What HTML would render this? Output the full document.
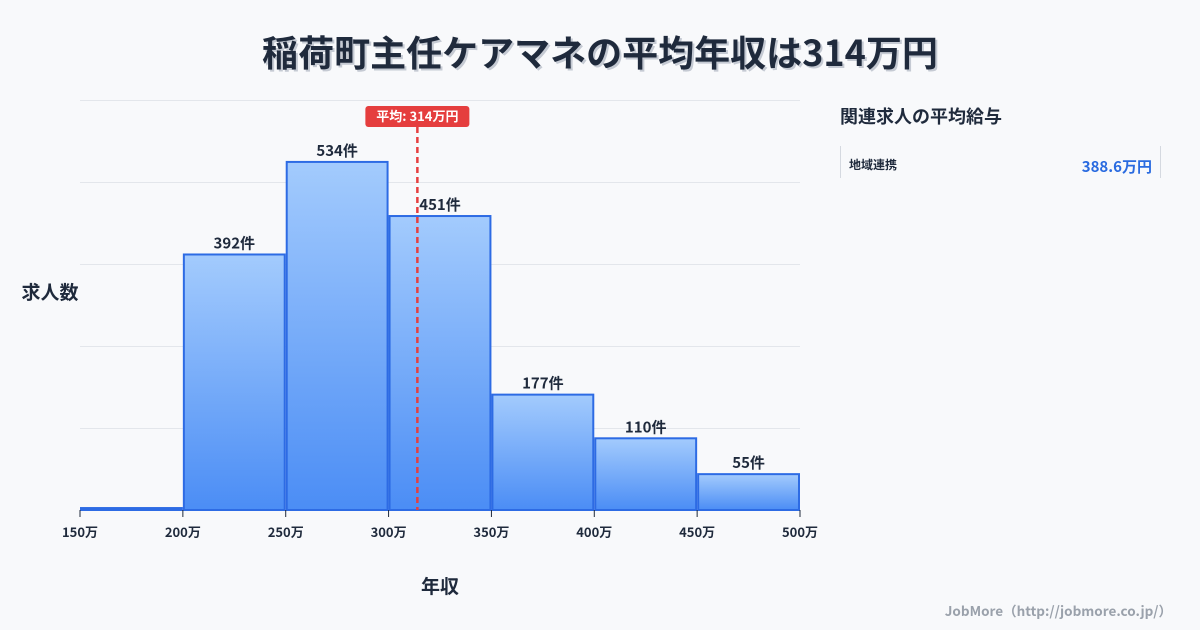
<!DOCTYPE html>
<html><head><meta charset="utf-8"><style>
body{margin:0;background:#f8f9fb;font-family:"Noto Sans CJK JP","Liberation Sans",sans-serif;}
#wrap{position:relative;width:1200px;height:630px;overflow:hidden;background:#f8f9fb}
svg text{font-family:"Noto Sans CJK JP","Liberation Sans",sans-serif}
</style></head><body>
<div id="wrap">
<svg id="svg" width="1200" height="630">
<defs><linearGradient id="g" x1="0" y1="0" x2="0" y2="1"><stop offset="0" stop-color="#a3cbfd"/><stop offset="1" stop-color="#4b8df5"/></linearGradient></defs>
<text x="602" y="68" text-anchor="middle" font-size="36" font-weight="bold" fill="#c5cad3">稲荷町主任ケアマネの平均年収は314万円</text>
<text x="600" y="66" text-anchor="middle" font-size="36" font-weight="bold" fill="#1f2a3c">稲荷町主任ケアマネの平均年収は314万円</text>
<g id="grid"></g><g id="bars"></g><g id="xaxis"></g>
<text x="50" y="299" text-anchor="middle" font-size="19" font-weight="bold" fill="#1f2a3c">求人数</text>
<text x="440" y="593" text-anchor="middle" font-size="19" font-weight="bold" fill="#1f2a3c">年収</text>
<g id="mean"></g>
<text x="840" y="123" font-size="18" font-weight="bold" fill="#1f2a3c">関連求人の平均給与</text>
<line x1="840.5" y1="146" x2="840.5" y2="178" stroke="#d5d9e0"/>
<line x1="1160.5" y1="146" x2="1160.5" y2="178" stroke="#d5d9e0"/>
<text x="849" y="169" font-size="12" font-weight="bold" fill="#1f2a3c">地域連携</text>
<text x="1152" y="172" text-anchor="end" font-size="15" font-weight="bold" fill="#2a6be0">388.6万円</text>
<text x="1172" y="616" text-anchor="end" font-size="13.5" font-weight="bold" fill="#9aa1ab">JobMore（http://jobmore.co.jp/）</text>
</svg></div>
<script>
const binStarts=[150,200,250,300,350,400,450];
const counts=[3,392,534,451,177,110,55];
const labels=["","392件","534件","451件","177件","110件","55件"];
const xTicks=[150,200,250,300,350,400,450,500];
const meanValue=314;
const NS="http://www.w3.org/2000/svg";
const x0=80,x1=800,xmin=150,xmax=500,base=510,yMax=629;
const X=v=>x0+(v-xmin)/(xmax-xmin)*(x1-x0);
const Y=v=>base-v/yMax*410;
function mk(t,a,p){const e=document.createElementNS(NS,t);for(const k in a)e.setAttribute(k,a[k]);p.appendChild(e);return e;}
const grid=document.getElementById('grid');
for(let i=0;i<6;i++){const y=100+i*82;const l=mk('line',{x1:x0,x2:x1,y1:y+.5,y2:y+.5,stroke:'#e3e6eb'},grid);

}
const bars=document.getElementById('bars');
binStarts.forEach((s,i)=>{const xa=X(s)+1,xb=X(s+50)-1,y=Y(counts[i]);
const r=mk('rect',{x:xa,y:y,width:xb-xa,height:base-y,fill:'url(#g)',stroke:'#2d6be4','stroke-width':2},bars);


if(labels[i]){const t=mk('text',{x:(xa+xb)/2,y:y-6,'text-anchor':'middle','font-size':15,'font-weight':'bold',fill:'#1f2a3c'},bars);t.textContent=labels[i];

}});
const ax=document.getElementById('xaxis');
xTicks.forEach(v=>{const l=mk('line',{x1:X(v),x2:X(v),y1:510,y2:517,stroke:'#1f2a3c'},ax);


const t=mk('text',{x:X(v),y:537,'text-anchor':'middle','font-size':13,'font-weight':'bold',fill:'#1f2a3c'},ax);t.textContent=v+'万';

});
const m=document.getElementById('mean');const mx=X(meanValue);
const ml=mk('line',{x1:mx,x2:mx,y1:127,y2:510,stroke:'#e53e3e','stroke-width':2.5,'stroke-dasharray':'6,4'},m);


const mr=mk('rect',{x:mx-52,y:106,width:104,height:21,rx:3,fill:'#e53e3e'},m);


const mt=mk('text',{x:mx,y:121,'text-anchor':'middle','font-size':13,'font-weight':'bold',fill:'#fff'},m);mt.textContent='平均: '+meanValue+'万円';


</script></body></html>
